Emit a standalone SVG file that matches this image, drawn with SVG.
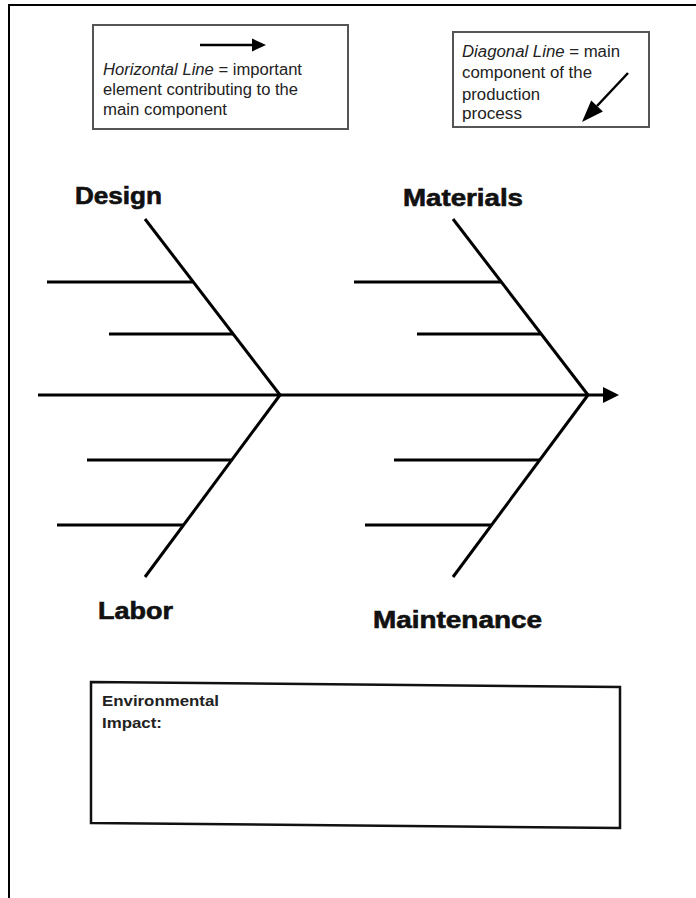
<svg xmlns="http://www.w3.org/2000/svg" width="696" height="898" viewBox="0 0 696 898">
  <style>
    .frame { stroke: #000; stroke-width: 2; fill: none; }
    .legend { fill: #fff; stroke: #555; stroke-width: 2; }
    .note { font-family: "Liberation Sans", Arial, sans-serif; font-size: 16px; fill: #222; }
    .label { font-family: "Liberation Sans", Arial, sans-serif; font-size: 23px; font-weight: bold; fill: #111; stroke: #111; stroke-width: 0.6; }
    .bone { stroke: #000; stroke-width: 3; fill: none; stroke-linecap: butt; }
    .box { fill: #fff; stroke: #111; stroke-width: 2.5; }
    .boxtext { font-family: "Liberation Sans", Arial, sans-serif; font-size: 14px; font-weight: bold; fill: #222; }
  </style>

  <rect width="696" height="898" fill="#fff"/>

  <!-- page frame (top and left edges) -->
  <path class="frame" d="M9,898 V5 H696"/>

  <!-- legend: horizontal line -->
  <g id="legend-horizontal">
    <rect class="legend" x="93" y="25" width="255" height="104"/>
    <line x1="200" y1="45" x2="253" y2="45" stroke="#000" stroke-width="2.5"/>
    <polygon points="266,45 252,38.5 252,51.5" fill="#000"/>
    <text class="note" x="103" y="75" textLength="199" lengthAdjust="spacingAndGlyphs"><tspan font-style="italic">Horizontal Line</tspan> = important</text>
    <text class="note" x="103" y="95" textLength="195" lengthAdjust="spacingAndGlyphs">element contributing to the</text>
    <text class="note" x="103" y="115" textLength="124" lengthAdjust="spacingAndGlyphs">main component</text>
  </g>

  <!-- legend: diagonal line -->
  <g id="legend-diagonal">
    <rect class="legend" x="453" y="32" width="196" height="95"/>
    <line x1="628" y1="73" x2="597" y2="106" stroke="#000" stroke-width="2.5"/>
    <polygon points="582,122 602.9,111.5 591.2,100.5" fill="#000"/>
    <text class="note" x="462" y="57" textLength="158" lengthAdjust="spacingAndGlyphs"><tspan font-style="italic">Diagonal Line</tspan> = main</text>
    <text class="note" x="462" y="78" textLength="130" lengthAdjust="spacingAndGlyphs">component of the</text>
    <text class="note" x="462" y="100" textLength="78" lengthAdjust="spacingAndGlyphs">production</text>
    <text class="note" x="462" y="119" textLength="60" lengthAdjust="spacingAndGlyphs">process</text>
  </g>

  <!-- fishbone connectors -->
  <g id="connectors">
    <!-- spine -->
    <line class="bone" x1="38" y1="395" x2="606" y2="395"/>
    <polygon points="619,395 603,387 603,403" fill="#000"/>
    <!-- Design bone and ribs -->
    <line class="bone" x1="145" y1="219" x2="280" y2="395"/>
    <line class="bone" x1="47" y1="282" x2="193" y2="282"/>
    <line class="bone" x1="109" y1="334" x2="233" y2="334"/>
    <!-- Labor bone and ribs -->
    <line class="bone" x1="280" y1="395" x2="145" y2="577"/>
    <line class="bone" x1="87" y1="460" x2="232" y2="460"/>
    <line class="bone" x1="57" y1="525" x2="184" y2="525"/>
    <!-- Materials bone and ribs -->
    <line class="bone" x1="453" y1="219" x2="588" y2="395"/>
    <line class="bone" x1="354" y1="282" x2="502" y2="282"/>
    <line class="bone" x1="417" y1="334" x2="541" y2="334"/>
    <!-- Maintenance bone and ribs -->
    <line class="bone" x1="588" y1="395" x2="453" y2="577"/>
    <line class="bone" x1="394" y1="460" x2="540" y2="460"/>
    <line class="bone" x1="365" y1="525" x2="492" y2="525"/>
  </g>

  <!-- category labels -->
  <g id="design"><text class="label" x="75" y="204" textLength="87" lengthAdjust="spacingAndGlyphs">Design</text></g>
  <g id="materials"><text class="label" x="403" y="206" textLength="120" lengthAdjust="spacingAndGlyphs">Materials</text></g>
  <g id="labor"><text class="label" x="98" y="619" textLength="75" lengthAdjust="spacingAndGlyphs">Labor</text></g>
  <g id="maintenance"><text class="label" x="373" y="628" textLength="169" lengthAdjust="spacingAndGlyphs">Maintenance</text></g>

  <!-- environmental impact box -->
  <g id="environmental-impact">
    <polygon class="box" points="91,682 620,687 620,828 91,823"/>
    <text class="boxtext" x="102" y="706" textLength="117" lengthAdjust="spacingAndGlyphs">Environmental</text>
    <text class="boxtext" x="102" y="728" textLength="60" lengthAdjust="spacingAndGlyphs">Impact:</text>
  </g>
</svg>
